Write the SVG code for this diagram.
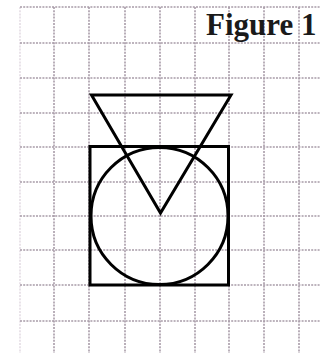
<svg xmlns="http://www.w3.org/2000/svg" width="320" height="353" viewBox="0 0 320 353">
<style>
.grid line{stroke:#a89ca8;stroke-width:1.6;stroke-dasharray:2 1.2}
.shape{fill:none;stroke:#000;stroke-width:3;stroke-linejoin:miter}
.title{font-family:"Liberation Serif",serif;font-weight:bold;font-size:31px;fill:#1a1a1a}
</style>
<rect width="320" height="353" fill="#fff"/>
<g class="grid" id="grid">
<line x1="20" y1="7" x2="20" y2="353" style="stroke:#e4dce4"/>
<line x1="54" y1="7" x2="54" y2="353"/>
<line x1="89" y1="7" x2="89" y2="353"/>
<line x1="125" y1="7" x2="125" y2="353"/>
<line x1="160" y1="7" x2="160" y2="353"/>
<line x1="195" y1="7" x2="195" y2="353"/>
<line x1="229" y1="7" x2="229" y2="353"/>
<line x1="264" y1="7" x2="264" y2="353"/>
<line x1="299" y1="7" x2="299" y2="353"/>
<line x1="20" y1="7" x2="320" y2="7"/>
<line x1="20" y1="43" x2="320" y2="43"/>
<line x1="20" y1="78" x2="320" y2="78"/>
<line x1="20" y1="113" x2="320" y2="113"/>
<line x1="20" y1="147" x2="320" y2="147"/>
<line x1="20" y1="182" x2="320" y2="182"/>
<line x1="20" y1="216" x2="320" y2="216"/>
<line x1="20" y1="250" x2="320" y2="250"/>
<line x1="20" y1="285" x2="320" y2="285"/>
<line x1="20" y1="321" x2="320" y2="321"/>
</g>
<text class="title" x="206" y="35">Figure 1</text>
<g id="square"><rect class="shape" x="90" y="146.5" width="138.5" height="138.5"/></g>
<g id="circle"><circle class="shape" cx="159.5" cy="216" r="68.5"/></g>
<g id="triangle"><polygon class="shape" points="91.5,95 231,95 160.5,213"/></g>
</svg>
